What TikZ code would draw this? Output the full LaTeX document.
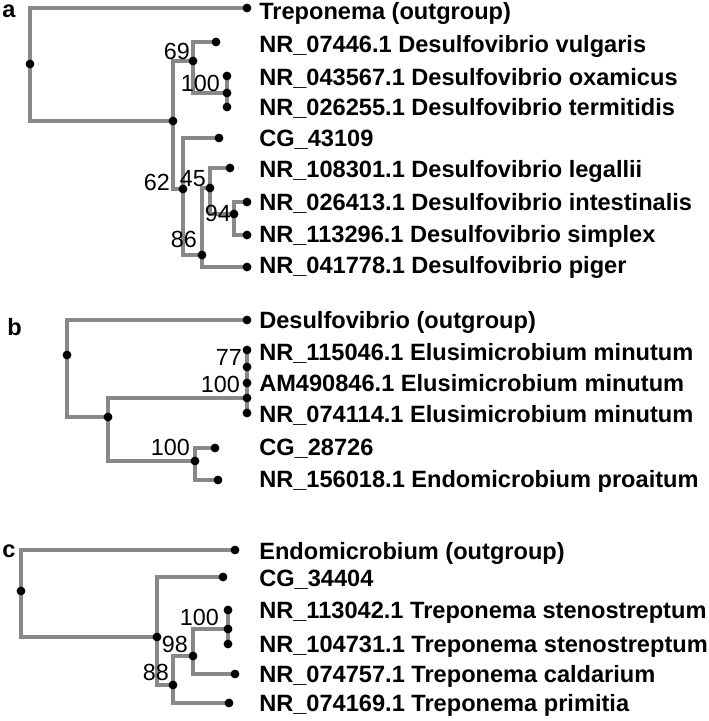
\documentclass[tikz,border=0pt]{standalone}
\usepackage{fontspec}
\setmainfont{Liberation Sans}
\usetikzlibrary{calc}
\definecolor{treegray}{RGB}{136,136,136}

\begin{document}
\begin{tikzpicture}[
  x=0.75pt, y=-0.75pt,
  N/.style  = {circle, fill=black, inner sep=0pt, minimum size=6.6pt},
  T/.style  = {anchor=base west, inner sep=0pt,
               font=\fontsize{17.7}{20}\selectfont\bfseries},
  BS/.style = {anchor=base east, inner sep=0pt,
               font=\fontsize{17.5}{20}\selectfont},
  P/.style  = {anchor=base west, inner sep=0pt,
               font=\fontsize{17.7}{20}\selectfont\bfseries},
  br/.style = {draw=treegray, line width=2.6pt}
]
\useasboundingbox (0,0) rectangle (709,721);

% Panel a: tree nodes and tips
\coordinate (a0)   at ( 30,  64);
\coordinate (a1)   at (173, 121);
\coordinate (a69)  at (193,  61);
\coordinate (a100) at (227,  93);
\coordinate (a62)  at (183, 189);
\coordinate (a86)  at (202, 255);
\coordinate (a45)  at (210, 188);
\coordinate (a94)  at (234, 214);
\coordinate (ta1)  at (247,   8);
\coordinate (ta2)  at (216,  42);
\coordinate (ta3)  at (227,  76);
\coordinate (ta4)  at (227, 107);
\coordinate (ta5)  at (219, 138);
\coordinate (ta6)  at (230, 168);
\coordinate (ta7)  at (247, 202);
\coordinate (ta8)  at (247, 235);
\coordinate (ta9)  at (247, 267);

% Panel b
\coordinate (b0)   at ( 67, 355);
\coordinate (b1)   at (108, 417);
\coordinate (b77)  at (247, 367);
\coordinate (b100) at (247, 398);
\coordinate (b2)   at (195, 461);
\coordinate (tb1)  at (247, 320);
\coordinate (tb2)  at (247, 350);
\coordinate (tb3)  at (247, 383);
\coordinate (tb4)  at (247, 413);
\coordinate (tb5)  at (215, 448);
\coordinate (tb6)  at (218, 480);

% Panel c
\coordinate (c0)   at ( 21, 591);
\coordinate (c1)   at (157, 637);
\coordinate (c88)  at (173, 685);
\coordinate (c98)  at (193, 656);
\coordinate (c100) at (228, 629);
\coordinate (tc1)  at (235, 550);
\coordinate (tc2)  at (223, 577);
\coordinate (tc3)  at (228, 610);
\coordinate (tc4)  at (228, 644);
\coordinate (tc5)  at (235, 674);
\coordinate (tc6)  at (229, 703);

% Branches a
\draw[br] (a0)   |- (ta1);
\draw[br] (a0)   |- (a1);
\draw[br] (a1)   |- (a69);
\draw[br] (a1)   |- (a62);
\draw[br] (a69)  |- (ta2);
\draw[br] (a69)  |- (a100);
\draw[br] (a100) -- (ta3);
\draw[br] (a100) -- (ta4);
\draw[br] (a62)  |- (ta5);
\draw[br] (a62)  |- (a86);
\draw[br] (a86)  |- (a45);
\draw[br] (a86)  |- (ta9);
\draw[br] (a45)  |- (ta6);
\draw[br] (a45)  |- (a94);
\draw[br] (a94)  |- (ta7);
\draw[br] (a94)  |- (ta8);

% Branches b
\draw[br] (b0)   |- (tb1);
\draw[br] (b0)   |- (b1);
\draw[br] (b1)   |- (b100);
\draw[br] (b1)   |- (b2);
\draw[br] (b100) -- (b77);
\draw[br] (b100) -- (tb4);
\draw[br] (b77)  -- (tb2);
\draw[br] (b77)  -- (tb3);
\draw[br] (b2)   |- (tb5);
\draw[br] (b2)   |- (tb6);

% Branches c
\draw[br] (c0)   |- (tc1);
\draw[br] (c0)   |- (c1);
\draw[br] (c1)   |- (tc2);
\draw[br] (c1)   |- (c88);
\draw[br] (c88)  |- (c98);
\draw[br] (c88)  |- (tc6);
\draw[br] (c98)  |- (c100);
\draw[br] (c98)  |- (tc5);
\draw[br] (c100) -- (tc3);
\draw[br] (c100) -- (tc4);

% Dots on every node and tip
\foreach \n in {a0,a1,a69,a100,a62,a86,a45,a94,ta1,ta2,ta3,ta4,ta5,ta6,ta7,ta8,ta9,
                b0,b1,b77,b100,b2,tb1,tb2,tb3,tb4,tb5,tb6,
                c0,c1,c88,c98,c100,tc1,tc2,tc3,tc4,tc5,tc6}
  \node[N] (d\n) at (\n) {};

% Panel letters
\node[P] (pa) at (2,  17) {a};
\node[P] (pb) at (7, 335) {b};
\node[P] (pc) at (2, 557) {c};

% Tip labels
\node[T] (la1) at (259,  19) {Treponema (outgroup)};
\node[T] (la2) at (259,  52) {NR\_07446.1 Desulfovibrio vulgaris};
\node[T] (la3) at (259,  85) {NR\_043567.1 Desulfovibrio oxamicus};
\node[T] (la4) at (259, 115) {NR\_026255.1 Desulfovibrio termitidis};
\node[T] (la5) at (259, 146) {CG\_43109};
\node[T] (la6) at (259, 177) {NR\_108301.1 Desulfovibrio legallii};
\node[T] (la7) at (259, 210) {NR\_026413.1 Desulfovibrio intestinalis};
\node[T] (la8) at (259, 242) {NR\_113296.1 Desulfovibrio simplex};
\node[T] (la9) at (259, 273) {NR\_041778.1 Desulfovibrio piger};

\node[T] (lb1) at (259, 328) {Desulfovibrio (outgroup)};
\node[T] (lb2) at (259, 360) {NR\_115046.1 Elusimicrobium minutum};
\node[T] (lb3) at (259, 391) {AM490846.1 Elusimicrobium minutum};
\node[T] (lb4) at (259, 422) {NR\_074114.1 Elusimicrobium minutum};
\node[T] (lb5) at (259, 455) {CG\_28726};
\node[T] (lb6) at (259, 487) {NR\_156018.1 Endomicrobium proaitum};

\node[T] (lc1) at (259, 559) {Endomicrobium (outgroup)};
\node[T] (lc2) at (259, 586) {CG\_34404};
\node[T] (lc3) at (259, 618) {NR\_113042.1 Treponema stenostreptum};
\node[T] (lc4) at (259, 652) {NR\_104731.1 Treponema stenostreptum};
\node[T] (lc5) at (259, 682) {NR\_074757.1 Treponema caldarium};
\node[T] (lc6) at (259, 711) {NR\_074169.1 Treponema primitia};

% Bootstrap values
\node[BS] (sa69)   at (190,  59) {69};
\node[BS] (sa100)  at (220,  91) {100};
\node[BS] (sa62)   at (170, 190) {62};
\node[BS] (sa45)   at (206, 186) {45};
\node[BS] (sa86)   at (197, 247) {86};
\node[BS] (sa94)   at (231, 221) {94};
\node[BS] (sb77)   at (242, 365) {77};
\node[BS] (sb100)  at (240, 392) {100};
\node[BS] (sb100b) at (190, 455) {100};
\node[BS] (sc100)  at (219, 625) {100};
\node[BS] (sc98)   at (188, 652) {98};
\node[BS] (sc88)   at (169, 680) {88};

\end{tikzpicture}
\end{document}
